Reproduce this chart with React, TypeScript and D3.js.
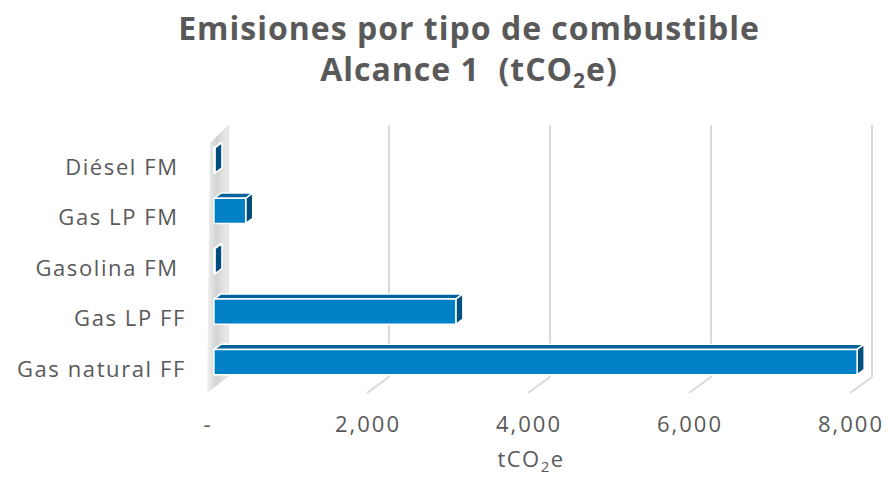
import React from "react";
import * as d3 from "d3";

const categories = ["Diésel FM ", "Gas LP FM ", "Gasolina FM ", "Gas LP FF", "Gas natural FF"];
const values = [12, 395, 12, 3005, 7990];
const ticks = [0, 2000, 4000, 6000, 8000];
const tickLabels = ["-", "2,000", "4,000", "6,000", "8,000"];

const W = 888, H = 478;
const DX = 22, DY = -16;
const FONT = "'Open Sans', 'Noto Sans', sans-serif";
const GREY = "#595959";

export default function App() {
  const x = d3.scaleLinear().domain([0, 8000]).range([206, 850]);
  const y = d3.scaleBand<string>().domain(categories).range([141, 393]).paddingInner(0.5).paddingOuter(0.25);
  const P = (v: number, yy: number, d: number): [number, number] => [x(v) + DX * d, yy + DY * d];
  const poly = (pts: [number, number][]) => pts.map((p) => p.join(",")).join(" ");
  const yTop = 141, yBot = 393;
  const bFront = 0.36, bBack = 0.68;

  return (
    <svg width={W} height={H} style={{ position: "absolute", left: 0, top: 0, background: "#fff" }}>
      <defs>
        <linearGradient id="wallG" x1="0" x2="1" y1="0" y2="0">
          <stop offset="0" stopColor="#f2f2f2" />
          <stop offset="0.45" stopColor="#d3d3d3" />
          <stop offset="1" stopColor="#ececec" />
        </linearGradient>
      </defs>
      <text x={469} y={40} textAnchor="middle" fontFamily={FONT} fontWeight={700} fontSize={32} letterSpacing={1} fill={GREY}>
        Emisiones por tipo de combustible
      </text>
      <text x={469} y={81} textAnchor="middle" fontFamily={FONT} fontWeight={700} fontSize={32} letterSpacing={1} fill={GREY} style={{ whiteSpace: "pre" }}>
        {"Alcance 1  (tCO"}
        <tspan fontSize={21} dy={7}>2</tspan>
        <tspan dy={-7}>e)</tspan>
      </text>

      {/* gridlines */}
      {ticks.slice(1).map((t) => {
        const b1 = P(t, yTop, 1), b2 = P(t, yBot, 1), f = P(t, yBot, 0);
        return (
          <g key={t}>
            <line x1={b1[0]} y1={b1[1]} x2={b2[0]} y2={b2[1]} stroke="#d9d9d9" strokeWidth={2} />
            <line x1={b2[0]} y1={b2[1]} x2={f[0]} y2={f[1]} stroke="#d9d9d9" strokeWidth={2} />
          </g>
        );
      })}

      {/* side wall */}
      <polygon points={poly([P(0, yTop, 1), P(0, yBot, 1), [x(0) + 1, yBot], [x(0) + 4, yTop + 2]])} fill="url(#wallG)" />
      <line x1={P(0, yTop, 1)[0]} y1={P(0, yTop, 1)[1]} x2={P(0, yBot, 1)[0]} y2={P(0, yBot, 1)[1]} stroke="#e6e6e6" strokeWidth={2} />

      {/* bars */}
      {categories.map((c, i) => {
        const v = values[i];
        const y0 = y(c)!, y1 = y0 + y.bandwidth();
        const front = [P(0, y0, bFront), P(v, y0, bFront), P(v, y1, bFront), P(0, y1, bFront)];
        const top = [P(0, y0, bFront), P(v, y0, bFront), P(v, y0, bBack), P(0, y0, bBack)];
        const side = [P(v, y0, bFront), P(v, y0, bBack), P(v, y1, bBack), P(v, y1, bFront)];
        return (
          <g key={c} stroke="#ffffff" strokeWidth={1.5} strokeLinejoin="round">
            <polygon points={poly(top)} fill="#00639e" />
            <polygon points={poly(side)} fill="#004f7e" />
            <polygon points={poly(front)} fill="#0080c6" />
          </g>
        );
      })}

      {/* category labels */}
      {categories.map((c) => (
        <text key={c} x={186} y={y(c)! + y.bandwidth() / 2 + 1} dy="0.35em" textAnchor="end" fontFamily={FONT} fontSize={22} letterSpacing={1.6} fill={GREY} style={{ whiteSpace: "pre" }}>
          {c}
        </text>
      ))}

      {/* tick labels */}
      {ticks.map((t, i) => (
        <text key={t} x={x(t) + 1 + (i === 0 ? 1 : 0)} y={432} textAnchor="middle" fontFamily={FONT} fontSize={22} letterSpacing={2} fill={GREY}>
          {tickLabels[i]}
        </text>
      ))}

      <text x={531} y={467} textAnchor="middle" fontFamily={FONT} fontSize={22} letterSpacing={1.5} fill={GREY}>
        tCO<tspan fontSize={15} dy={5}>2</tspan><tspan dy={-5}>e</tspan>
      </text>
    </svg>
  );
}
